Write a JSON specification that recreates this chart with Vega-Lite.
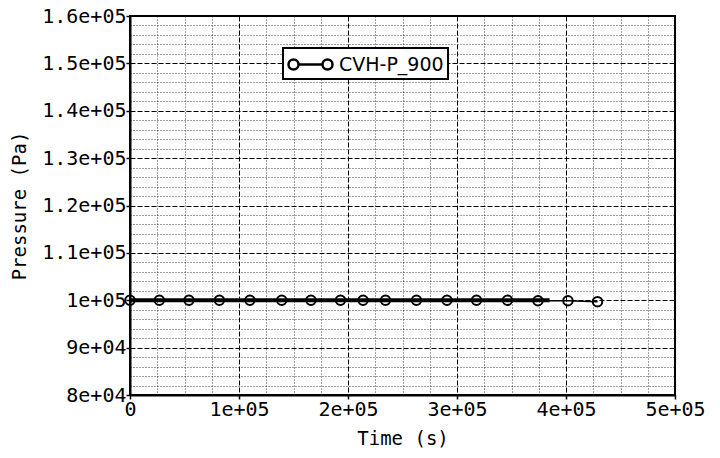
{
  "$schema": "https://vega.github.io/schema/vega-lite/v6.json",
  "autosize": "none",
  "width": 545,
  "height": 379,
  "padding": {"left": 130, "top": 16, "right": 45, "bottom": 63},
  "background": "white",
  "config": {
    "view": {"stroke": "black", "strokeWidth": 2},
    "axis": {
      "domainColor": "black",
      "domainWidth": 2,
      "tickColor": "black",
      "tickWidth": 1.5,
      "labelFont": "DejaVu Sans Mono, Liberation Mono, monospace",
      "labelFontSize": 20,
      "labelFontWeight": "normal",
      "labelColor": "black",
      "titleFont": "DejaVu Sans Mono, Liberation Mono, monospace",
      "titleFontSize": 19,
      "titleFontWeight": "normal",
      "titleColor": "black",
      "gridColor": "black",
      "gridWidth": 1,
      "labelOverlap": false,
      "labelFlush": false
    },
    "legend": {
      "orient": "none",
      "legendX": 153,
      "legendY": 32,
      "strokeColor": "black",
      "strokeWidth": 2,
      "fillColor": "white",
      "padding": 4,
      "labelFont": "DejaVu Sans",
      "labelFontSize": 19,
      "labelColor": "black",
      "symbolType": "M-2,0 A0.4545,0.4545 0 1,0 -1.091,0 A0.4545,0.4545 0 1,0 -2,0 Z M-1.091,0 L1.091,0 M1.091,0 A0.4545,0.4545 0 1,0 2,0 A0.4545,0.4545 0 1,0 1.091,0 Z",
      "symbolSize": 484,
      "symbolStrokeWidth": 2.5,
      "symbolStrokeColor": "black",
      "symbolFillColor": "transparent",
      "symbolOffset": 11,
      "labelOffset": 16
    }
  },
  "datasets": {
    "trace": [
      {"time": 0, "pressure": 100000},
      {"time": 100000, "pressure": 100000},
      {"time": 200000, "pressure": 100000},
      {"time": 300000, "pressure": 100000},
      {"time": 385000, "pressure": 100000}
    ],
    "samples": [
      {"time": 0, "pressure": 100000},
      {"time": 26900, "pressure": 100000},
      {"time": 54100, "pressure": 100000},
      {"time": 82000, "pressure": 100000},
      {"time": 110000, "pressure": 100000},
      {"time": 139200, "pressure": 100000},
      {"time": 166000, "pressure": 100000},
      {"time": 193100, "pressure": 100000},
      {"time": 213800, "pressure": 100000},
      {"time": 234400, "pressure": 100000},
      {"time": 262800, "pressure": 100000},
      {"time": 290800, "pressure": 100000},
      {"time": 317900, "pressure": 100000},
      {"time": 346300, "pressure": 100000},
      {"time": 374300, "pressure": 99900},
      {"time": 401800, "pressure": 99900},
      {"time": 428900, "pressure": 99700}
    ]
  },
  "encoding": {
    "x": {
      "field": "time",
      "type": "quantitative",
      "title": "Time (s)",
      "scale": {"domain": [0, 500000], "nice": false, "zero": false},
      "axis": {
        "values": [0, 25000, 50000, 75000, 100000, 125000, 150000, 175000, 200000, 225000, 250000, 275000, 300000, 325000, 350000, 375000, 400000, 425000, 450000, 475000, 500000],
        "labelExpr": "datum.value % 100000 == 0 ? (datum.value == 0 ? '0' : toString(datum.value / 100000) + 'e+05') : ''",
        "gridDash": {"condition": {"test": "datum.value % 100000 == 0", "value": [5, 2]}, "value": [1, 2]},
        "gridOpacity": {"condition": {"test": "datum.value % 100000 == 0", "value": 1}, "value": 0.75},
        "tickSize": {"condition": {"test": "datum.value % 100000 == 0", "value": 4}, "value": 0},
        "labelPadding": 0,
        "titlePadding": 10
      }
    },
    "y": {
      "field": "pressure",
      "type": "quantitative",
      "title": "Pressure (Pa)",
      "scale": {"domain": [80000, 160000], "nice": false, "zero": false},
      "axis": {
        "values": [80000, 82000, 84000, 86000, 88000, 90000, 92000, 94000, 96000, 98000, 100000, 102000, 104000, 106000, 108000, 110000, 112000, 114000, 116000, 118000, 120000, 122000, 124000, 126000, 128000, 130000, 132000, 134000, 136000, 138000, 140000, 142000, 144000, 146000, 148000, 150000, 152000, 154000, 156000, 158000, 160000],
        "labelExpr": "datum.value % 10000 == 0 ? (datum.value >= 100000 ? toString(round(datum.value / 10000) / 10) + 'e+05' : toString(round(datum.value / 10000)) + 'e+04') : ''",
        "gridDash": {"condition": {"test": "datum.value % 10000 == 0", "value": [5, 2]}, "value": [1, 2]},
        "gridOpacity": {"condition": {"test": "datum.value % 10000 == 0", "value": 1}, "value": 0.75},
        "tickSize": {"condition": {"test": "datum.value % 10000 == 0", "value": 4}, "value": 0},
        "labelPadding": 0,
        "titlePadding": 12
      }
    },
    "color": {"datum": "CVH-P_900", "type": "nominal", "scale": {"range": ["black"]}, "title": null}
  },
  "layer": [
    {
      "data": {"name": "samples"},
      "mark": {"type": "line", "strokeWidth": 1.5}
    },
    {
      "data": {"name": "trace"},
      "mark": {"type": "line", "strokeWidth": 4}
    },
    {
      "data": {"name": "samples"},
      "mark": {"type": "point", "shape": "circle", "size": 90, "strokeWidth": 2, "filled": false, "opacity": 1}
    }
  ]
}
